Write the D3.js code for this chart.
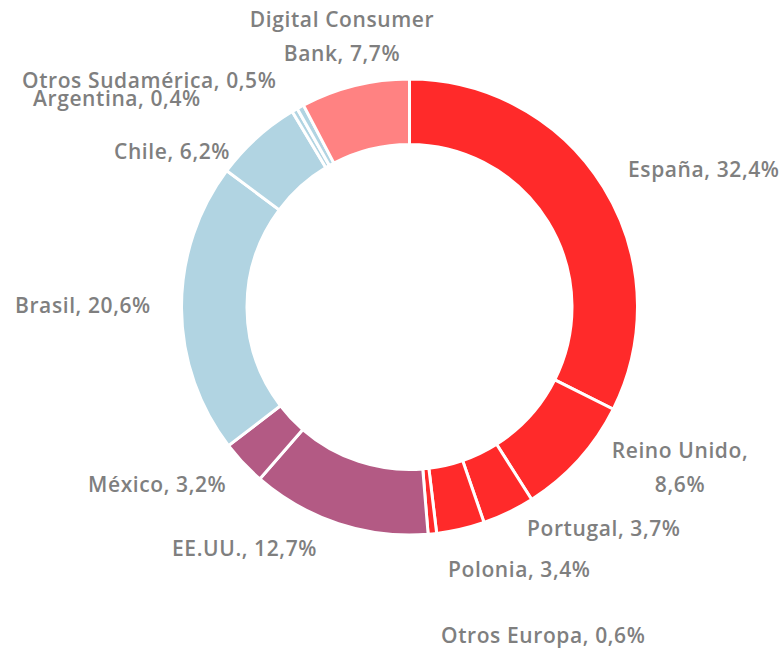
<!DOCTYPE html>
<html>
<head>
<meta charset="utf-8">
<script src="https://cdn.jsdelivr.net/npm/d3@7"></script>
<style>
  body { margin: 0; background: #fff; }
  text { font-family: "Open Sans", "DejaVu Sans", sans-serif; font-weight: 600; fill: #7f7f7f; letter-spacing: 0.6px; }
</style>
</head>
<body>
<div id="chart-area"></div>
<script>
// data
const regions = ["España", "Reino Unido", "Portugal", "Polonia", "Otros Europa", "EE.UU.", "México",
    "Brasil", "Chile", "Argentina", "Otros Sudamérica", "Digital Consumer Bank"]
const shares = [32.4, 8.6, 3.7, 3.4, 0.6, 12.7, 3.2, 20.6, 6.2, 0.4, 0.5, 7.7]
const groups = ["europa", "europa", "europa", "europa", "europa", "norte", "norte",
    "sur", "sur", "sur", "sur", "dcb"]
const labelLines = [
    ["España, 32,4%"], ["Reino Unido,", "8,6%"], ["Portugal, 3,7%"], ["Polonia, 3,4%"],
    ["Otros Europa, 0,6%"], ["EE.UU., 12,7%"], ["México, 3,2%"], ["Brasil, 20,6%"],
    ["Chile, 6,2%"], ["Argentina, 0,4%"], ["Otros Sudamérica, 0,5%"], ["Digital Consumer", "Bank, 7,7%"]
]

// label layout (left edge / centre, first baseline)
const labelPos = [
    {x: 628, y: 177, anchor: "start"},
    {x: 680, y: 458, anchor: "middle"},
    {x: 527, y: 536, anchor: "start"},
    {x: 448, y: 577, anchor: "start"},
    {x: 441, y: 643, anchor: "start"},
    {x: 172, y: 556, anchor: "start"},
    {x: 88, y: 492, anchor: "start"},
    {x: 15, y: 313, anchor: "start"},
    {x: 114, y: 159, anchor: "start"},
    {x: 33, y: 106, anchor: "start"},
    {x: 22, y: 88, anchor: "start"},
    {x: 342, y: 27, anchor: "middle"}
]

const WIDTH = 784
const HEIGHT = 650
const CX = 409.5
const CY = 307
const OUTER = 228
const INNER = 162.5

const colorScale = d3.scaleOrdinal()
    .domain(["europa", "norte", "sur", "dcb"])
    .range(["#ff2a2a", "#b35a84", "#b1d4e2", "#ff8282"])

const svg = d3.select("#chart-area")
    .append("svg")
    .attr("width", WIDTH)
    .attr("height", HEIGHT)

const g = svg.append("g")
    .attr("transform", `translate(${CX}, ${CY})`)

const pie = d3.pie()
    .sort(null)
    .value(d => d)

const arc = d3.arc()
    .innerRadius(INNER)
    .outerRadius(OUTER)

g.selectAll("path")
    .data(pie(shares))
    .enter()
    .append("path")
    .attr("d", arc)
    .attr("fill", (d, i) => colorScale(groups[i]))
    .attr("stroke", "#fff")
    .attr("stroke-width", 3)

// labels
const labels = svg.selectAll("text.label")
    .data(labelLines)
    .enter()
    .append("text")
    .attr("class", "label")
    .attr("font-size", "21px")
    .attr("text-anchor", (d, i) => labelPos[i].anchor)

labels.each(function (lines, i) {
    const t = d3.select(this)
    lines.forEach((line, j) => {
        t.append("tspan")
            .attr("x", labelPos[i].x)
            .attr("y", labelPos[i].y + j * 34)
            .text(line)
    })
})
</script>
</body>
</html>
